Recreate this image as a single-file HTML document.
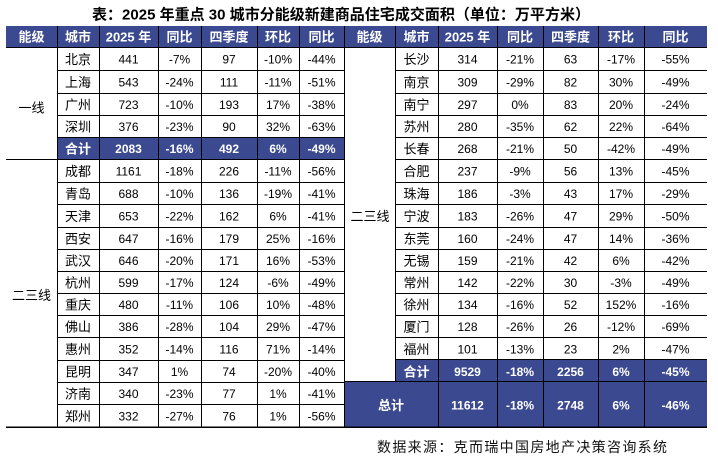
<!DOCTYPE html>
<html><head><meta charset="utf-8"><style>
html,body{margin:0;padding:0;background:#fff;}
svg{display:block;}
text{font-family:"Liberation Sans","Noto Sans CJK SC",sans-serif;}
</style></head><body>
<svg width="718" height="462" viewBox="0 0 718 462" xmlns="http://www.w3.org/2000/svg">
<rect x="0" y="0" width="718" height="462" fill="#fff"/>
<text x="92" y="15" font-size="15" font-weight="bold" fill="#000" dominant-baseline="central" textLength="498" lengthAdjust="spacingAndGlyphs">表：2025 年重点 30 城市分能级新建商品住宅成交面积（单位：万平方米）</text>

<rect x="6" y="26" width="701" height="21" fill="#3b4990"/>
<rect x="57" y="137" width="287" height="22" fill="#3b4990"/>
<rect x="395" y="360" width="312" height="22" fill="#3b4990"/>
<rect x="344" y="382" width="363" height="45" fill="#3b4990"/>

<g stroke="#000" stroke-width="1" shape-rendering="crispEdges">
<line x1="6" y1="47.5" x2="707" y2="47.5"/>
<line x1="57" y1="70.5" x2="344" y2="70.5"/>
<line x1="57" y1="93.5" x2="344" y2="93.5"/>
<line x1="57" y1="115.5" x2="344" y2="115.5"/>
<line x1="57" y1="137.5" x2="344" y2="137.5"/>
<line x1="6" y1="159.5" x2="344" y2="159.5"/>
<line x1="57" y1="182.5" x2="344" y2="182.5"/>
<line x1="57" y1="204.5" x2="344" y2="204.5"/>
<line x1="57" y1="227.5" x2="344" y2="227.5"/>
<line x1="57" y1="249.5" x2="344" y2="249.5"/>
<line x1="57" y1="271.5" x2="344" y2="271.5"/>
<line x1="57" y1="293.5" x2="344" y2="293.5"/>
<line x1="57" y1="315.5" x2="344" y2="315.5"/>
<line x1="57" y1="337.5" x2="344" y2="337.5"/>
<line x1="57" y1="360.5" x2="344" y2="360.5"/>
<line x1="57" y1="382.5" x2="344" y2="382.5"/>
<line x1="57" y1="404.5" x2="344" y2="404.5"/>
<line x1="6" y1="427" x2="707" y2="427" stroke-width="1.5"/>

<line x1="395" y1="70.5" x2="707" y2="70.5"/>
<line x1="395" y1="93.5" x2="707" y2="93.5"/>
<line x1="395" y1="115.5" x2="707" y2="115.5"/>
<line x1="395" y1="137.5" x2="707" y2="137.5"/>
<line x1="395" y1="159.5" x2="707" y2="159.5"/>
<line x1="395" y1="182.5" x2="707" y2="182.5"/>
<line x1="395" y1="204.5" x2="707" y2="204.5"/>
<line x1="395" y1="227.5" x2="707" y2="227.5"/>
<line x1="395" y1="249.5" x2="707" y2="249.5"/>
<line x1="395" y1="271.5" x2="707" y2="271.5"/>
<line x1="395" y1="293.5" x2="707" y2="293.5"/>
<line x1="395" y1="315.5" x2="707" y2="315.5"/>
<line x1="395" y1="337.5" x2="707" y2="337.5"/>
<line x1="395" y1="359.5" x2="707" y2="359.5"/>
<line x1="344" y1="381.5" x2="707" y2="381.5"/>

<line x1="57.5" y1="26" x2="57.5" y2="427"/>
<line x1="99.5" y1="26" x2="99.5" y2="427"/>
<line x1="158.5" y1="26" x2="158.5" y2="427"/>
<line x1="201.5" y1="26" x2="201.5" y2="427"/>
<line x1="257.5" y1="26" x2="257.5" y2="427"/>
<line x1="299.5" y1="26" x2="299.5" y2="427"/>
<line x1="344.5" y1="26" x2="344.5" y2="427"/>
<line x1="395.5" y1="26" x2="395.5" y2="382"/>
<line x1="438.5" y1="26" x2="438.5" y2="427"/>
<line x1="497.5" y1="26" x2="497.5" y2="427"/>
<line x1="543.5" y1="26" x2="543.5" y2="427"/>
<line x1="598.5" y1="26" x2="598.5" y2="427"/>
<line x1="644.5" y1="26" x2="644.5" y2="427"/>
</g>

<!-- headers -->
<g fill="#fff" font-size="13" font-weight="bold" text-anchor="middle" dominant-baseline="central">
<text x="31.5" y="37">能级</text><text x="78" y="37">城市</text><text x="128.5" y="37">2025 年</text><text x="179.5" y="37">同比</text><text x="229" y="37">四季度</text><text x="278" y="37">环比</text><text x="321.5" y="37">同比</text>
<text x="369.5" y="37">能级</text><text x="416.5" y="37">城市</text><text x="467.5" y="37">2025 年</text><text x="520" y="37">同比</text><text x="570.5" y="37">四季度</text><text x="621" y="37">环比</text><text x="675.5" y="37">同比</text>
</g>

<!-- tier labels -->
<g fill="#000" font-size="13" text-anchor="middle" dominant-baseline="central">
<text x="31.5" y="108">一线</text>
<text x="31.5" y="295.5">二三线</text>
<text x="370" y="216.5">二三线</text>
</g>

<!-- left body -->
<g fill="#000" font-size="12" text-anchor="middle" dominant-baseline="central">
<g font-size="13">
<text x="78" y="59.5">北京</text><text x="78" y="82.5">上海</text><text x="78" y="105">广州</text><text x="78" y="127">深圳</text>
<text x="78" y="171.5">成都</text><text x="78" y="194">青岛</text><text x="78" y="216.5">天津</text><text x="78" y="239">西安</text><text x="78" y="261">武汉</text><text x="78" y="283">杭州</text><text x="78" y="305">重庆</text><text x="78" y="327">佛山</text><text x="78" y="349.5">惠州</text><text x="78" y="372">昆明</text><text x="78" y="394">济南</text><text x="78" y="416.5">郑州</text>
</g>
<text x="128.5" y="59.5">441</text><text x="179.5" y="59.5">-7%</text><text x="229" y="59.5">97</text><text x="278" y="59.5">-10%</text><text x="321.5" y="59.5">-44%</text>
<text x="128.5" y="82.5">543</text><text x="179.5" y="82.5">-24%</text><text x="229" y="82.5">111</text><text x="278" y="82.5">-11%</text><text x="321.5" y="82.5">-51%</text>
<text x="128.5" y="105">723</text><text x="179.5" y="105">-10%</text><text x="229" y="105">193</text><text x="278" y="105">17%</text><text x="321.5" y="105">-38%</text>
<text x="128.5" y="127">376</text><text x="179.5" y="127">-23%</text><text x="229" y="127">90</text><text x="278" y="127">32%</text><text x="321.5" y="127">-63%</text>
<text x="128.5" y="171.5">1161</text><text x="179.5" y="171.5">-18%</text><text x="229" y="171.5">226</text><text x="278" y="171.5">-11%</text><text x="321.5" y="171.5">-56%</text>
<text x="128.5" y="194">688</text><text x="179.5" y="194">-10%</text><text x="229" y="194">136</text><text x="278" y="194">-19%</text><text x="321.5" y="194">-41%</text>
<text x="128.5" y="216.5">653</text><text x="179.5" y="216.5">-22%</text><text x="229" y="216.5">162</text><text x="278" y="216.5">6%</text><text x="321.5" y="216.5">-41%</text>
<text x="128.5" y="239">647</text><text x="179.5" y="239">-16%</text><text x="229" y="239">179</text><text x="278" y="239">25%</text><text x="321.5" y="239">-16%</text>
<text x="128.5" y="261">646</text><text x="179.5" y="261">-20%</text><text x="229" y="261">171</text><text x="278" y="261">16%</text><text x="321.5" y="261">-53%</text>
<text x="128.5" y="283">599</text><text x="179.5" y="283">-17%</text><text x="229" y="283">124</text><text x="278" y="283">-6%</text><text x="321.5" y="283">-49%</text>
<text x="128.5" y="305">480</text><text x="179.5" y="305">-11%</text><text x="229" y="305">106</text><text x="278" y="305">10%</text><text x="321.5" y="305">-48%</text>
<text x="128.5" y="327">386</text><text x="179.5" y="327">-28%</text><text x="229" y="327">104</text><text x="278" y="327">29%</text><text x="321.5" y="327">-47%</text>
<text x="128.5" y="349.5">352</text><text x="179.5" y="349.5">-14%</text><text x="229" y="349.5">116</text><text x="278" y="349.5">71%</text><text x="321.5" y="349.5">-14%</text>
<text x="128.5" y="372">347</text><text x="179.5" y="372">1%</text><text x="229" y="372">74</text><text x="278" y="372">-20%</text><text x="321.5" y="372">-40%</text>
<text x="128.5" y="394">340</text><text x="179.5" y="394">-23%</text><text x="229" y="394">77</text><text x="278" y="394">1%</text><text x="321.5" y="394">-41%</text>
<text x="128.5" y="416.5">332</text><text x="179.5" y="416.5">-27%</text><text x="229" y="416.5">76</text><text x="278" y="416.5">1%</text><text x="321.5" y="416.5">-56%</text>
</g>

<!-- right body -->
<g fill="#000" font-size="12" text-anchor="middle" dominant-baseline="central">
<g font-size="13">
<text x="416.5" y="59.5">长沙</text><text x="416.5" y="82.5">南京</text><text x="416.5" y="105">南宁</text><text x="416.5" y="127">苏州</text><text x="416.5" y="149">长春</text><text x="416.5" y="171.5">合肥</text><text x="416.5" y="194">珠海</text><text x="416.5" y="216.5">宁波</text><text x="416.5" y="239">东莞</text><text x="416.5" y="261">无锡</text><text x="416.5" y="283">常州</text><text x="416.5" y="305">徐州</text><text x="416.5" y="327">厦门</text><text x="416.5" y="349.5">福州</text>
</g>
<text x="467.5" y="59.5">314</text><text x="520" y="59.5">-21%</text><text x="570.5" y="59.5">63</text><text x="621" y="59.5">-17%</text><text x="675.5" y="59.5">-55%</text>
<text x="467.5" y="82.5">309</text><text x="520" y="82.5">-29%</text><text x="570.5" y="82.5">82</text><text x="621" y="82.5">30%</text><text x="675.5" y="82.5">-49%</text>
<text x="467.5" y="105">297</text><text x="520" y="105">0%</text><text x="570.5" y="105">83</text><text x="621" y="105">20%</text><text x="675.5" y="105">-24%</text>
<text x="467.5" y="127">280</text><text x="520" y="127">-35%</text><text x="570.5" y="127">62</text><text x="621" y="127">22%</text><text x="675.5" y="127">-64%</text>
<text x="467.5" y="149">268</text><text x="520" y="149">-21%</text><text x="570.5" y="149">50</text><text x="621" y="149">-42%</text><text x="675.5" y="149">-49%</text>
<text x="467.5" y="171.5">237</text><text x="520" y="171.5">-9%</text><text x="570.5" y="171.5">56</text><text x="621" y="171.5">13%</text><text x="675.5" y="171.5">-45%</text>
<text x="467.5" y="194">186</text><text x="520" y="194">-3%</text><text x="570.5" y="194">43</text><text x="621" y="194">17%</text><text x="675.5" y="194">-29%</text>
<text x="467.5" y="216.5">183</text><text x="520" y="216.5">-26%</text><text x="570.5" y="216.5">47</text><text x="621" y="216.5">29%</text><text x="675.5" y="216.5">-50%</text>
<text x="467.5" y="239">160</text><text x="520" y="239">-24%</text><text x="570.5" y="239">47</text><text x="621" y="239">14%</text><text x="675.5" y="239">-36%</text>
<text x="467.5" y="261">159</text><text x="520" y="261">-21%</text><text x="570.5" y="261">42</text><text x="621" y="261">6%</text><text x="675.5" y="261">-42%</text>
<text x="467.5" y="283">142</text><text x="520" y="283">-22%</text><text x="570.5" y="283">30</text><text x="621" y="283">-3%</text><text x="675.5" y="283">-49%</text>
<text x="467.5" y="305">134</text><text x="520" y="305">-16%</text><text x="570.5" y="305">52</text><text x="621" y="305">152%</text><text x="675.5" y="305">-16%</text>
<text x="467.5" y="327">128</text><text x="520" y="327">-26%</text><text x="570.5" y="327">26</text><text x="621" y="327">-12%</text><text x="675.5" y="327">-69%</text>
<text x="467.5" y="349.5">101</text><text x="520" y="349.5">-13%</text><text x="570.5" y="349.5">23</text><text x="621" y="349.5">2%</text><text x="675.5" y="349.5">-47%</text>
</g>

<!-- summary rows -->
<g fill="#fff" font-size="12" font-weight="bold" text-anchor="middle" dominant-baseline="central">
<text x="78" y="149" font-size="13">合计</text><text x="128.5" y="149">2083</text><text x="179.5" y="149">-16%</text><text x="229" y="149">492</text><text x="278" y="149">6%</text><text x="321.5" y="149">-49%</text>
<text x="416.5" y="372" font-size="13">合计</text><text x="467.5" y="372">9529</text><text x="520" y="372">-18%</text><text x="570.5" y="372">2256</text><text x="621" y="372">6%</text><text x="675.5" y="372">-45%</text>
<text x="391" y="405.5" font-size="13">总计</text><text x="467.5" y="405.5">11612</text><text x="520" y="405.5">-18%</text><text x="570.5" y="405.5">2748</text><text x="621" y="405.5">6%</text><text x="675.5" y="405.5">-46%</text>
</g>

<text x="377" y="447" font-size="14" fill="#111" dominant-baseline="central" textLength="290" lengthAdjust="spacing">数据来源：克而瑞中国房地产决策咨询系统</text>
</svg>
</body></html>
